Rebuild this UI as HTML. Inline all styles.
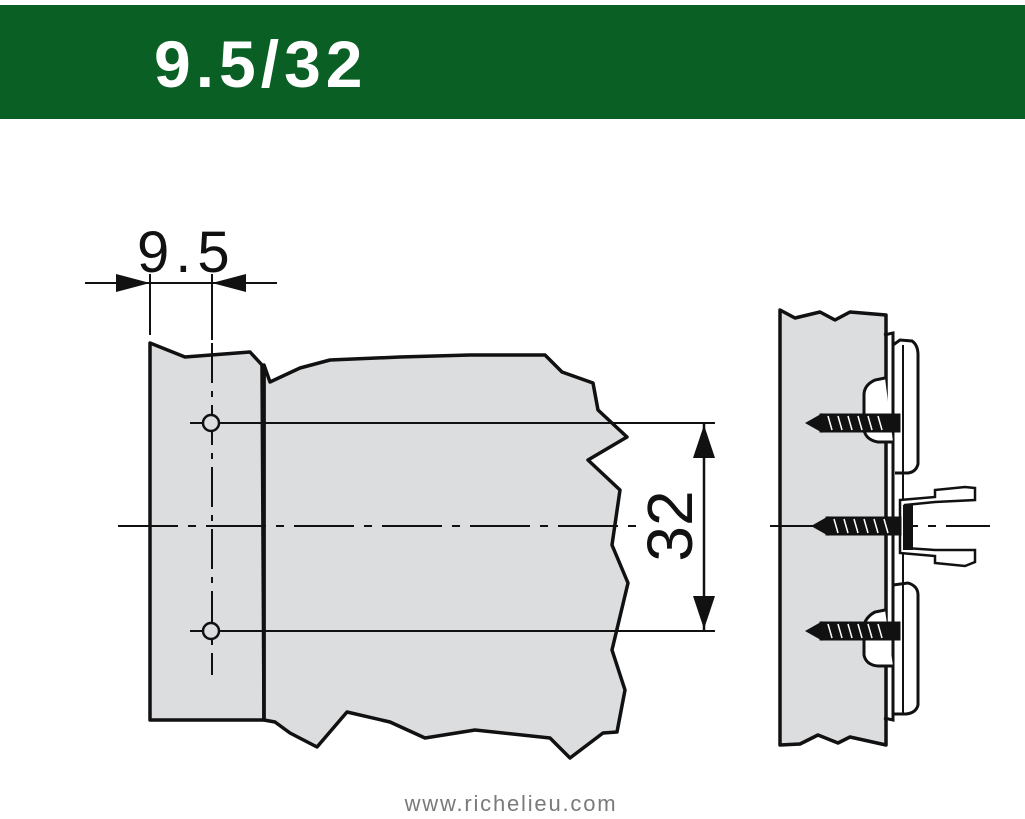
<!DOCTYPE html>
<html><head><meta charset="utf-8"><style>
html,body{margin:0;padding:0;background:#fff;}
body{width:1025px;height:819px;overflow:hidden;position:relative;font-family:"Liberation Sans",sans-serif;}
</style></head><body>
<svg width="1025" height="819" viewBox="0 0 1025 819" xmlns="http://www.w3.org/2000/svg" style="position:absolute;left:0;top:0">
<rect x="0" y="5" width="1025" height="114" fill="#0a5f25"/>
<text x="154" y="87" font-family="Liberation Sans" font-weight="bold" font-size="66" fill="#fff" letter-spacing="5">9.5/32</text>

<path d="M150,343 L185,357 L250,352 L262,365 L264,720 L150,720 Z" fill="#dcdddf" stroke="#111" stroke-width="3.5" stroke-linejoin="round"/>
<path d="M264,365 L270,382 L300,368 L330,360 L400,357 L470,355 L545,355 L562,372 L593,383 L598,410 L627,437 L588,460 L620,490 L612,545 L628,583 L612,650 L625,690 L617,732 L603,733 L570,758 L550,738 L475,730 L425,738 L390,722 L347,712 L317,747 L290,733 L275,722 L264,720 Z" fill="#dcdddf" stroke="#111" stroke-width="3.5" stroke-linejoin="round"/>
<line x1="264" y1="365" x2="264" y2="720" stroke="#111" stroke-width="3.5"/>

<text x="137" y="272" font-family="Liberation Sans" font-size="58" fill="#111" letter-spacing="6" style="font-weight:300">9.5</text>
<line x1="85" y1="283" x2="277" y2="283" stroke="#111" stroke-width="2"/>
<line x1="150" y1="274" x2="150" y2="335" stroke="#111" stroke-width="2"/>
<line x1="212" y1="274" x2="212" y2="340" stroke="#111" stroke-width="2"/>
<polygon points="150,283 116,274 116,292" fill="#111"/>
<polygon points="212,283 246,274 246,292" fill="#111"/>
<line x1="212" y1="343" x2="212" y2="675" stroke="#111" stroke-width="2" stroke-dasharray="40,8,6,8"/>

<line x1="190" y1="423" x2="715" y2="423" stroke="#111" stroke-width="2"/>
<line x1="190" y1="631" x2="715" y2="631" stroke="#111" stroke-width="2"/>
<circle cx="211" cy="423" r="8" fill="#dcdddf" stroke="#111" stroke-width="2.5"/>
<circle cx="211" cy="631" r="8" fill="#dcdddf" stroke="#111" stroke-width="2.5"/>
<line x1="118" y1="526" x2="640" y2="526" stroke="#111" stroke-width="2" stroke-dasharray="60,10,8,10"/>

<line x1="704" y1="423" x2="704" y2="631" stroke="#111" stroke-width="2.5"/>
<polygon points="704,425 693,458 715,458" fill="#111"/>
<polygon points="704,629 693,596 715,596" fill="#111"/>
<text transform="translate(692,526) rotate(-90)" text-anchor="middle" font-family="Liberation Sans" font-size="64" fill="#111">32</text>

<path d="M780,310 L795,318 L820,312 L835,320 L850,312 L886,315 L886,745 L850,737 L838,743 L818,735 L800,744 L780,745 Z" fill="#dcdddf" stroke="#111" stroke-width="3.5" stroke-linejoin="round"/>
<line x1="770" y1="526" x2="990" y2="526" stroke="#111" stroke-width="2" stroke-dasharray="60,10,8,10"/>
<path d="M884,335 L893,333 L893,720 L884,718" fill="none" stroke="#111" stroke-width="3"/>
<path d="M893,345 L900,340 L912,341 Q918,345 918,355 L918,464 Q916,472 908,473 L895,473" fill="none" stroke="#111" stroke-width="3"/>
<path d="M893,585 L908,583 Q918,586 918,595 L918,705 Q916,713 906,714 L893,714" fill="none" stroke="#111" stroke-width="3"/>
<path d="M885,378 L875,380 Q864,385 864,395 L864,430 Q866,440 878,442 L893,442" fill="#fff" stroke="#111" stroke-width="3"/>
<path d="M885,610 L875,612 Q864,618 864,628 L864,655 Q866,665 878,666 L893,666" fill="#fff" stroke="#111" stroke-width="3"/>
<line x1="903" y1="345" x2="903" y2="715" stroke="#111" stroke-width="2"/>
<path d="M900,500 L935,497 L935,490 L965,487 L975,488 L975,500 L935,502 L905,505 L905,548 L935,550 L975,550 L975,562 L965,566 L935,563 L935,556 L900,553 Z" fill="#fff" stroke="#111" stroke-width="2.5"/>
<rect x="903" y="505" width="10" height="45" fill="#111"/>
<g fill="#111" stroke="#111">
<polygon points="806,423 822,414 822,432"/>
<rect x="820" y="414" width="80" height="18"/>
<polygon points="812,526 828,517 828,535"/>
<rect x="826" y="517" width="75" height="18"/>
<polygon points="806,631 822,622 822,640"/>
<rect x="820" y="622" width="80" height="18"/>
</g>
<g stroke="#fff" stroke-width="1.5">
<path d="M828,416 L832,430 M838,416 L842,430 M848,416 L852,430 M858,416 L862,430 M868,416 L872,430 M878,416 L882,430"/>
<path d="M834,519 L838,533 M844,519 L848,533 M854,519 L858,533 M864,519 L868,533 M874,519 L878,533 M884,519 L888,533"/>
<path d="M828,624 L832,638 M838,624 L842,638 M848,624 L852,638 M858,624 L862,638 M868,624 L872,638 M878,624 L882,638"/>
</g>

<text x="511" y="811" text-anchor="middle" font-family="Liberation Sans" font-size="22" fill="#7a7a7a" letter-spacing="1.8">www.richelieu.com</text>
</svg>
</body></html>
